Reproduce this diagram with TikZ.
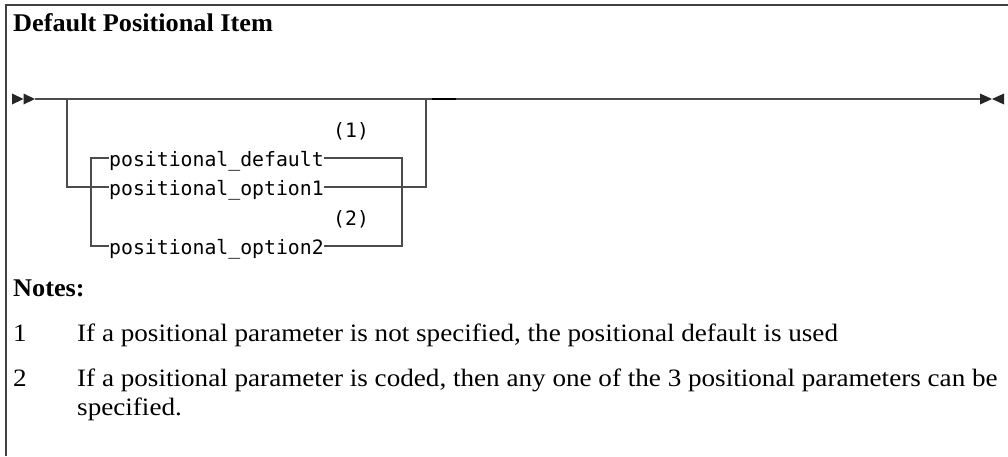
\documentclass[tikz,border=0pt]{standalone}
\usepackage{fontspec}
\setmainfont{Liberation Serif}
\newfontfamily\notefnt[FakeStretch=1.085]{Liberation Serif}
\newfontfamily\ttlfnt[FakeStretch=1.03]{Liberation Serif}
\newfontfamily\monofnt{DejaVu Sans Mono}
\begin{document}
\begin{tikzpicture}[x=1pt,y=-1pt,
  frame/.style={draw=black!75,line width=1.4pt},
  rail/.style={draw=black!70,line width=1.2pt},
  tip/.style={fill=black!85,draw=none},
  kw/.style={font=\monofnt\fontsize{19.8}{20}\selectfont,inner sep=0pt,text height=16pt,text depth=0pt,anchor=west},
  note/.style={font=\notefnt\fontsize{25}{28}\selectfont,inner sep=0pt,anchor=base west},
  ttl/.style={font=\ttlfnt\fontsize{25.5}{30}\selectfont\bfseries,inner sep=0pt,anchor=base west}]
\useasboundingbox[fill=white] (0,0) rectangle (1008,456);
% frame
\draw[frame] (6,456) -- (6,5) -- (1008,5);
% title and notes
\node[ttl] (title) at (13,31) {Default Positional Item};
\node[ttl] (notes) at (13,296) {Notes:};
\node[note] (n1) at (13,341) {1};
\node[note] (t1) at (77,341) {If a positional parameter is not specified, the positional default is used};
\node[note] (n2) at (13,386) {2};
\node[note] (t2) at (77,386) {If a positional parameter is coded, then any one of the 3 positional parameters can be};
\node[note] (t2b) at (77,415) {specified.};
% keywords
\node[kw] (pd) at (109,158) {positional\_default};
\node[kw] (po1) at (109,187) {positional\_option1};
\node[kw] (po2) at (109,246) {positional\_option2};
\node[kw] (r1) at (333,129) {(1)};
\node[kw] (r2) at (333,217) {(2)};
% coordinates
\coordinate (s) at (35,99);
\coordinate (e) at (980,99);
\coordinate (j1) at (67,99);
\coordinate (j2) at (426,99);
\coordinate (m1) at (432,99);
\coordinate (m2) at (456,99);
\coordinate (lv) at (91,187);
\coordinate (rv) at (402,187);
% arrows
\fill[tip] (12,93.5) -- (23.5,99) -- (12,104.5) -- cycle;
\fill[tip] (23.5,93.5) -- (35,99) -- (23.5,104.5) -- cycle;
\fill[tip] (980,93.5) -- (992,99) -- (980,104.5) -- cycle;
\fill[tip] (1004,93.5) -- (992,99) -- (1004,104.5) -- cycle;
% main rail
\draw[rail] (s) -- (e);
\draw[draw=black,line width=1.7pt] (m1) -- (m2);
% outer branch
\draw[rail] (j1) |- (po1.west);
\draw[rail] (po1.east) -| (j2);
% inner loop
\draw[rail] (pd.west) -| (lv) |- (po2.west);
\draw[rail] (pd.east) -| (rv) |- (po2.east);
\end{tikzpicture}
\end{document}
